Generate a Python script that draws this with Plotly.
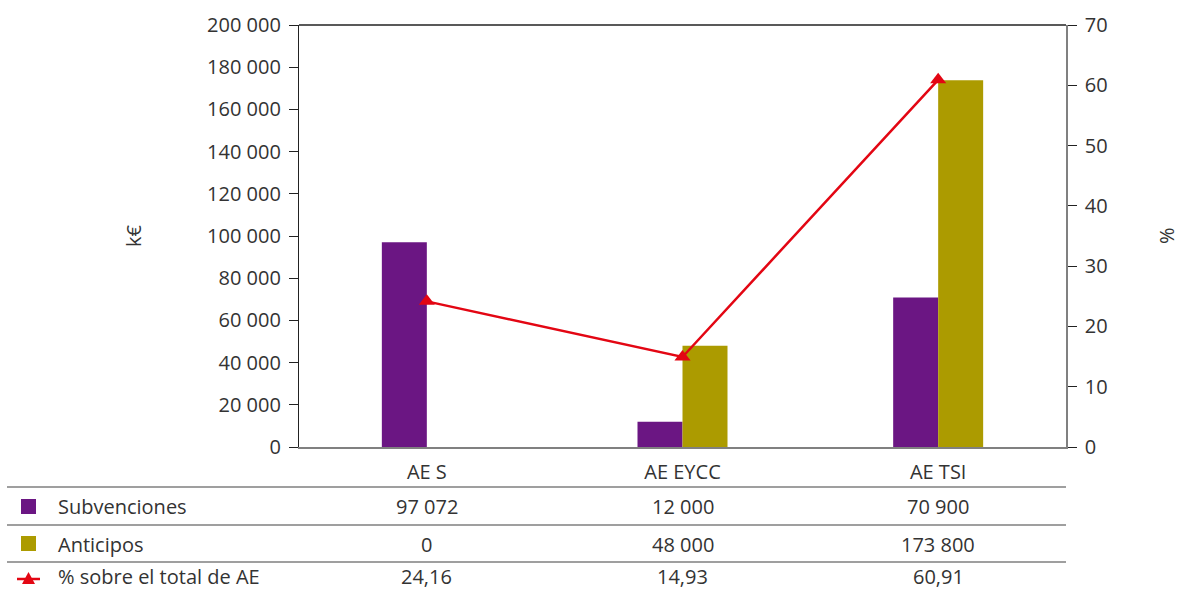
import plotly.graph_objects as go

categories = ["AE S", "AE EYCC", "AE TSI"]
subvenciones = [97072, 12000, 70900]
anticipos = [0, 48000, 173800]
porcentaje = [24.16, 14.93, 60.91]
row_labels = ["Subvenciones", "Anticipos", "% sobre el total de AE"]

PURPLE = "#6B1683"
OLIVE = "#AC9B00"
RED = "#E30613"
TXT = "#333333"
FONT = "Open Sans"

W, H = 1179, 589
L, R, T, B = 299, 1066, 25, 447  # screen pixels

def px(x):
    return (x - L) / (R - L)

def py(y):
    return (B - y) / (B - T)

fig = go.Figure()
fig.add_trace(go.Bar(x=categories, y=subvenciones, marker=dict(color=PURPLE, line=dict(width=0)),
                     name="Subvenciones"))
fig.add_trace(go.Bar(x=categories, y=anticipos, marker=dict(color=OLIVE, line=dict(width=0)),
                     name="Anticipos"))
fig.add_trace(go.Scatter(x=categories, y=porcentaje, yaxis="y2", mode="lines+markers",
                         line=dict(color=RED, width=2.5),
                         marker=dict(symbol="triangle-up", size=14, color=RED),
                         name="% sobre el total de AE"))

def fmt_int(v):
    return f"{v:,}".replace(",", " ")

def fmt_pct(v):
    return f"{v:.2f}".replace(".", ",")

rows = [[fmt_int(v) for v in subvenciones],
        [fmt_int(v) for v in anticipos],
        [fmt_pct(v) for v in porcentaje]]
row_y = [506, 544, 576]
line_y = [487, 525, 562]
FS = 20

annotations = []
shapes = []
cat_centers = [L + (R - L) * (i + 0.5) / 3 for i in range(3)]
for r, (lab, yy) in enumerate(zip(row_labels, row_y)):
    annotations.append(dict(x=px(56), y=py(yy), xref="paper", yref="paper", text=lab,
                            showarrow=False, xanchor="left", yanchor="middle",
                            font=dict(family=FONT, size=FS, color=TXT)))
    for c, cx in enumerate(cat_centers):
        annotations.append(dict(x=px(cx), y=py(yy), xref="paper", yref="paper", text=rows[r][c],
                                showarrow=False, xanchor="center", yanchor="middle",
                                font=dict(family=FONT, size=FS, color=TXT)))
annotations.append(dict(x=px(133), y=py(236), xref="paper", yref="paper", text="k€", textangle=-90,
                        showarrow=False, xanchor="center", yanchor="middle",
                        font=dict(family=FONT, size=FS, color=TXT)))
annotations.append(dict(x=px(1166), y=py(236), xref="paper", yref="paper", text="%", textangle=-90,
                        showarrow=False, xanchor="center", yanchor="middle",
                        font=dict(family=FONT, size=FS, color=TXT)))
for ly in line_y:
    shapes.append(dict(type="line", xref="paper", yref="paper", x0=px(7), x1=px(R), y0=py(ly), y1=py(ly),
                       line=dict(color="#7f7f7f", width=1.3)))
# legend keys
shapes.append(dict(type="rect", xref="paper", yref="paper", x0=px(21), x1=px(36), y0=py(499), y1=py(514),
                   fillcolor=PURPLE, line=dict(width=0)))
shapes.append(dict(type="rect", xref="paper", yref="paper", x0=px(21), x1=px(36), y0=py(536), y1=py(551),
                   fillcolor=OLIVE, line=dict(width=0)))
shapes.append(dict(type="line", xref="paper", yref="paper", x0=px(17), x1=px(40), y0=py(579), y1=py(579),
                   line=dict(color=RED, width=2.5)))
tri = [(22, 584), (35, 584), (28.5, 572)]
path = "M {} {} L {} {} L {} {} Z".format(*[v for p in tri for v in (px(p[0]), py(p[1]))])
shapes.append(dict(type="path", xref="paper", yref="paper", path=path, fillcolor=RED,
                   line=dict(width=0)))
# top border
shapes.append(dict(type="line", xref="paper", yref="paper", x0=0, x1=1, y0=1, y1=1,
                   line=dict(color="#222222", width=1.3)))

fig.update_layout(
    width=W, height=H,
    margin=dict(l=L, r=W - R, t=T, b=H - B, pad=0),
    paper_bgcolor="white", plot_bgcolor="white",
    separators=", ",
    showlegend=False,
    barmode="group", bargap=0.648, bargroupgap=0,
    font=dict(family=FONT, size=FS, color=TXT),
    xaxis=dict(showline=True, linecolor="#808080", linewidth=1.5, ticks="", showgrid=False,
               automargin=False,
               tickfont=dict(family=FONT, size=FS, color=TXT), ticklabelstandoff=6),
    yaxis=dict(range=[0, 200000], dtick=20000, tickformat=",d", showline=True, linecolor="#222222",
               linewidth=1.3, ticks="outside", ticklen=9, tickcolor="#222222", showgrid=False,
               zeroline=False, ticklabelstandoff=4, automargin=False,
               tickfont=dict(family=FONT, size=FS, color=TXT)),
    yaxis2=dict(range=[0, 70], dtick=10, overlaying="y", side="right", showline=True,
                linecolor="#808080", linewidth=1.5, ticks="outside", ticklen=9, tickcolor="#222222",
                showgrid=False, zeroline=False, ticklabelstandoff=4, automargin=False,
                tickfont=dict(family=FONT, size=FS, color=TXT)),
    annotations=annotations,
    shapes=shapes,
)

fig.write_html("out.html", config={"displayModeBar": False},
               post_script="document.body.style.margin='0';document.body.style.overflow='hidden';")
